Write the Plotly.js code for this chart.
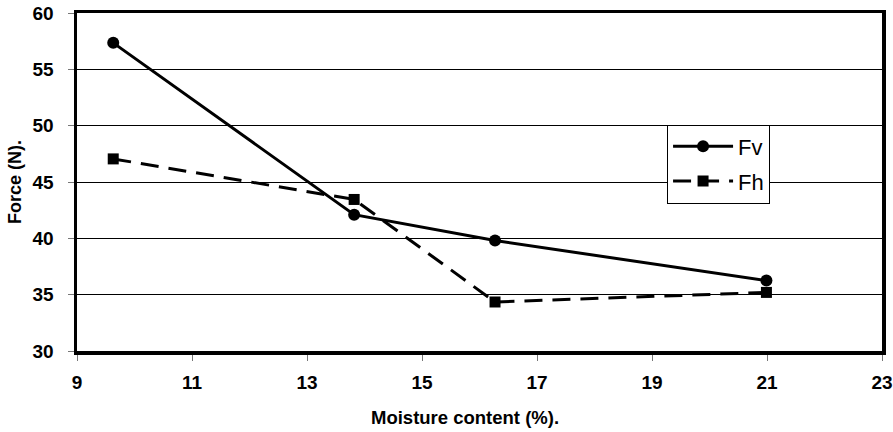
<!DOCTYPE html>
<html><head><meta charset="utf-8">
<script src="https://cdn.plot.ly/plotly-3.0.1.min.js"></script>
<style>html,body{margin:0;padding:0;background:#fff}#chart{width:893px;height:432px}</style>
</head><body><div id="chart"></div>
<script>
const moisture = [9.63, 13.82, 16.27, 20.99];
const fv = [57.35, 42.1, 39.8, 36.25];
const fh = [47.05, 43.45, 34.35, 35.2];
const xTicks = [9, 11, 13, 15, 17, 19, 21, 23];
const yTicks = [30, 35, 40, 45, 50, 55, 60];

const FONT = 'Liberation Sans, Arial, sans-serif';
const traces = [
  {x: moisture, y: fv, name: 'Fv', legendgroup: 'a', mode: 'lines+markers', type: 'scatter',
   line: {color: '#000', width: 3},
   marker: {symbol: 'circle', size: 12, color: '#000'}},
  {x: moisture, y: fh, name: 'Fh', legendgroup: 'b', mode: 'lines+markers', type: 'scatter',
   line: {color: '#000', width: 3, dash: '18px,10px'},
   marker: {symbol: 'square', size: 11, color: '#000'}}
];
const layout = {
  width: 893, height: 432,
  margin: {l: 77, r: 11, t: 13, b: 81},
  paper_bgcolor: '#fff', plot_bgcolor: '#fff',
  font: {family: FONT, color: '#000'},
  showlegend: true,
  legend: {x: 0.733, y: 0.67, xanchor: 'left', yanchor: 'top',
    bgcolor: '#fff', bordercolor: '#000', borderwidth: 1, itemwidth: 60,
    font: {size: 22, color: '#000', family: FONT}, traceorder: 'grouped', tracegroupgap: 3},
  xaxis: {range: [9, 23], tickvals: xTicks, ticktext: xTicks.map(v => '<b>' + v + '</b>'),
    showgrid: false, zeroline: false, showline: true, linecolor: '#000', linewidth: 3.5, mirror: true,
    ticks: 'outside', ticklen: 6, tickcolor: '#777', tickwidth: 1, ticklabelstandoff: 6,
    tickfont: {size: 19, family: FONT, weight: 'bold'}},
  yaxis: {range: [30, 60], tickvals: yTicks, ticktext: yTicks.map(v => '<b>' + v + '</b>'),
    showgrid: true, gridcolor: '#000', gridwidth: 1, zeroline: false,
    showline: true, linecolor: '#000', linewidth: 3.5, mirror: true,
    ticks: 'outside', ticklen: 6, tickcolor: '#777', tickwidth: 1, ticklabelstandoff: 10,
    tickfont: {size: 19, family: FONT, weight: 'bold'},
    title: {text: '<b>Force (N).</b>', font: {size: 18, family: FONT}, standoff: 7}},
  annotations: [{xref: 'paper', yref: 'paper', x: 0.482, y: -0.198, xanchor: 'center', yanchor: 'middle',
    showarrow: false, text: '<b>Moisture content (%).</b>', font: {size: 18.5, family: FONT, color: '#000'}}]
};
Plotly.newPlot('chart', traces, layout, {displayModeBar: false, staticPlot: true});
</script></body></html>
